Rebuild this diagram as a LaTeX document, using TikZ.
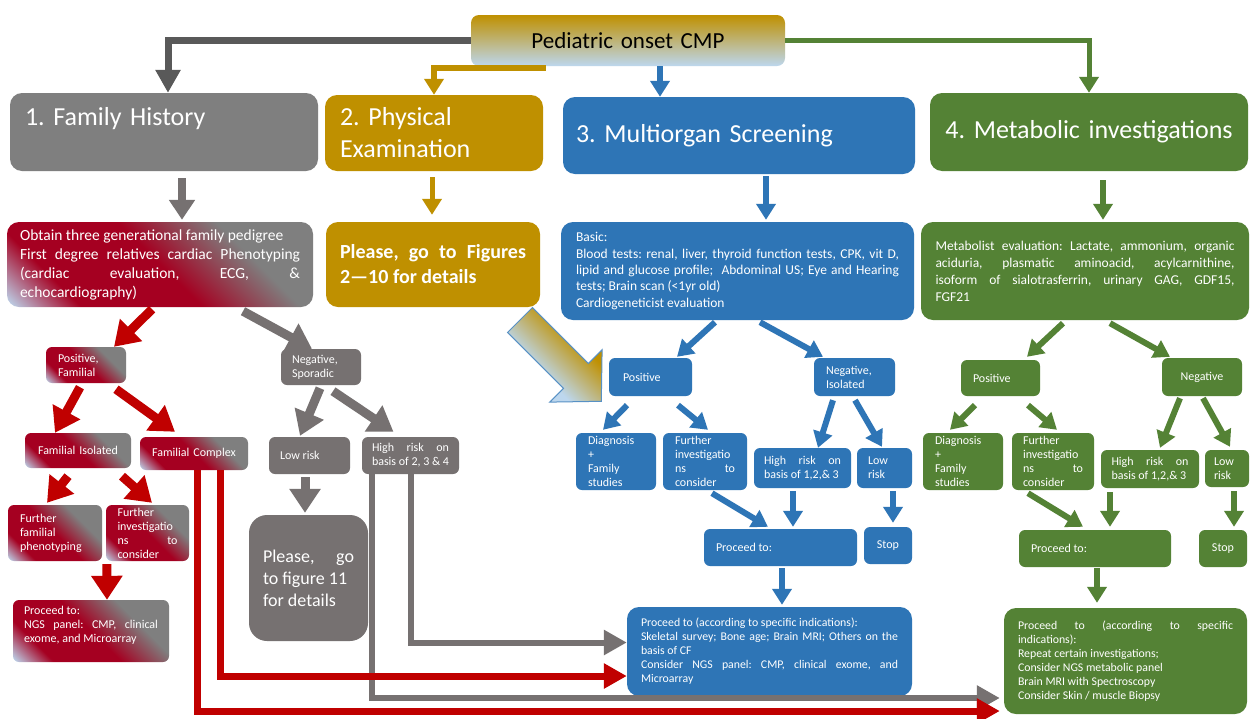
\documentclass[tikz,border=0pt]{standalone}
\usepackage{fontspec}
\setmainfont{Carlito}
\usetikzlibrary{arrows.meta,calc}

\definecolor{cgold}{HTML}{BF9000}
\definecolor{cblue}{HTML}{2E75B6}
\definecolor{cgreen}{HTML}{548235}
\definecolor{cgrey}{HTML}{7F7F7F}
\definecolor{cwarm}{HTML}{767171}
\definecolor{cdark}{HTML}{595959}
\definecolor{cred}{HTML}{C00000}
\definecolor{cwine}{HTML}{A50021}
\definecolor{clblue}{HTML}{BDD7EE}

\pgfdeclarehorizontalshading{redgrey}{100bp}{color(0bp)=(clblue); color(15bp)=(clblue);
  color(28bp)=(cwine); color(50bp)=(cwine); color(68bp)=(cgrey); color(100bp)=(cgrey)}
\pgfdeclarehorizontalshading{bluegold}{100bp}{color(0bp)=(clblue); color(38bp)=(clblue);
  color(64bp)=(cgold); color(100bp)=(cgold)}

\newcommand{\fsz}[2]{\fontsize{#1}{#2}\selectfont}
\tolerance=10000
\hbadness=10000
\frenchspacing

\tikzset{
  box/.style={rounded corners=6pt, text=white, inner ysep=0pt, align=justify, font=\fsz{12}{14}},
  bigbox/.style={box, rounded corners=12pt},
  wine/.style={shade, shading=redgrey, shading angle=45},
  fat/.style={line width=9pt, -{Triangle[length=24pt,width=30pt]}},
  mid/.style={line width=6pt, -{Triangle[length=16pt,width=19pt]}},
  link/.style={line width=7pt, -{Triangle[length=23pt,width=24pt]}},
}

\begin{document}
\begin{tikzpicture}[x=1pt, y=-1pt]
\fill[white] (0,0) rectangle (1250,718);
\useasboundingbox (0,0) rectangle (1250,718);

% headers
\node[bigbox, rounded corners=8pt, top color=cgold, bottom color=clblue, text=black, align=center,
  text width=300, inner xsep=7, minimum height=51, font=\fsz{23}{28}] (top) at (628,40.5) {Pediatric onset CMP};
\node[bigbox, fill=cgrey, text width=278, inner xsep=15, minimum height=78, align=left,
  font=\fsz{26}{31}] (fh) at (164,132) {1. Family History\\~};
\node[bigbox, fill=cgold, text width=188, inner xsep=15, minimum height=76, align=left,
  font=\fsz{26}{32}] (pe) at (434,133) {2. Physical\\Examination};
\node[bigbox, fill=cblue, text width=326, inner xsep=13, minimum height=77, align=left,
  font=\fsz{26}{31}] (mo) at (739,135.5) {3. Multiorgan Screening};
\node[bigbox, fill=cgreen, text width=300, inner xsep=9, minimum height=78, align=center,
  font=\fsz{26}{31}] (mi) at (1089,132) {4. Metabolic investigations};

\node[bigbox, wine, text width=280, inner xsep=13, minimum height=85, font=\fsz{15.5}{19}] (ped) at (160,264.5)
  {Obtain three generational family pedigree\\ First degree relatives cardiac Phenotyping\linebreak
   (cardiac evaluation, ECG, \&\linebreak echocardiography)};
\node[bigbox, fill=cgold, text width=186, inner xsep=14, minimum height=85, font=\bfseries\fsz{20}{25}] (pf) at (433,264.5)
  {Please, go to Figures\linebreak 2—10 for details};
\node[bigbox, fill=cblue, text width=323, inner xsep=15, minimum height=98, font=\fsz{13.5}{16.3}] (bs) at (737.5,271)
  {Basic:\\ Blood tests: renal, liver, thyroid function tests, CPK, vit D,\linebreak
   lipid and glucose profile;\ \ Abdominal US; Eye and Hearing\linebreak tests; Brain scan (<1yr old)\\
   Cardiogeneticist evaluation};
\node[bigbox, fill=cgreen, text width=299, inner xsep=14.5, minimum height=98, font=\fsz{13.5}{17}] (mb) at (1085,271)
  {Metabolist evaluation: Lactate, ammonium, organic\linebreak aciduria, plasmatic aminoacid, acylcarnithine,\linebreak
   isoform of sialotrasferrin, urinary GAG, GDF15,\linebreak FGF21};

% family history
\node[box, wine, text width=56, inner xsep=12, minimum height=36] (pfa) at (86,365) {Positive,\\Familial};
\node[box, fill=cwarm, text width=58, inner xsep=11, minimum height=36] (ns) at (321,367) {Negative,\\Sporadic};
\node[box, wine, text width=92, inner xsep=7, minimum height=35, align=center] (fi) at (78,450.5) {Familial Isolated};
\node[box, wine, text width=96, inner xsep=6, minimum height=33, align=center] (fc) at (194,453.5) {Familial Complex};
\node[box, fill=cwarm, text width=59, inner xsep=11, minimum height=37] (lr) at (309.5,455.5) {Low risk};
\node[box, fill=cwarm, text width=77, inner xsep=10, minimum height=37] (hr) at (410.5,455.5) {High risk on\linebreak basis of 2, 3 \& 4};
\node[box, wine, text width=70, inner xsep=12, minimum height=56] (ffp) at (55,533) {Further\\familial\\phenotyping};
\node[box, wine, text width=60, inner xsep=11.5, minimum height=56] (fir) at (147.5,533) {Further\\investigatio\\ns to\linebreak consider};
\node[box, wine, text width=134, inner xsep=11, minimum height=62, text depth=42] (ngs) at (91,631)
  {Proceed to:\\NGS panel: CMP, clinical\linebreak exome, and Microarray};
\node[box, fill=cwarm, rounded corners=18pt, text width=91, inner xsep=14, minimum height=126,
  font=\fsz{18}{22}] (pf11) at (308.5,578) {Please, go\linebreak to figure 11\\for details};

% multiorgan screening
\node[box, fill=cblue, text width=55, inner xsep=14, minimum height=38] (bpos) at (650.5,377) {Positive};
\node[box, fill=cblue, text width=57, inner xsep=12, minimum height=38] (bneg) at (854.5,377) {Negative,\\Isolated};
\node[box, fill=cblue, text width=56, inner xsep=12, minimum height=57] (bdia) at (616,461.5) {Diagnosis\\+\\Family\\studies};
\node[box, fill=cblue, text width=60, inner xsep=12, minimum height=57] (bfur) at (705,461.5) {Further\\investigatio\\ns to\linebreak consider};
\node[box, fill=cblue, text width=77, inner xsep=10, minimum height=40] (bhr) at (802.5,468) {High risk on\linebreak basis of 1,2,\& 3};
\node[box, fill=cblue, text width=33, inner xsep=11, minimum height=40] (blr) at (884.5,468) {Low\\risk};
\node[box, fill=cblue, text width=129, inner xsep=12, minimum height=37] (bpro) at (780.5,547.5) {Proceed to:};
\node[box, fill=cblue, text width=36, inner xsep=6, minimum height=37, align=center] (bstop) at (888,545.5) {Stop};
\node[bigbox, fill=cblue, text width=257, inner xsep=14, minimum height=89, font=\fsz{11.8}{14}] (bnext) at (769.5,651.5)
  {Proceed to (according to specific indications):\\ Skeletal survey; Bone age; Brain MRI; Others on the\linebreak
   basis of CF\\ Consider NGS panel: CMP, clinical exome, and\linebreak Microarray};

% metabolic investigations
\node[box, fill=cgreen, text width=55, inner xsep=12, minimum height=36] (gpos) at (1000.5,378) {Positive};
\node[box, fill=cgreen, text width=68, inner xsep=6, minimum height=38, align=center] (gneg) at (1202,377) {Negative};
\node[box, fill=cgreen, text width=56, inner xsep=12, minimum height=57] (gdia) at (963,461.5) {Diagnosis\\+\\Family\\studies};
\node[box, fill=cgreen, text width=60, inner xsep=11, minimum height=57] (gfur) at (1053,461.5) {Further\\investigatio\\ns to\linebreak consider};
\node[box, fill=cgreen, text width=77, inner xsep=10.5, minimum height=38] (ghr) at (1150,469) {High risk on\linebreak basis of 1,2,\& 3};
\node[box, fill=cgreen, text width=26, inner xsep=9, minimum height=37] (glr) at (1227,468.5) {Low\\risk};
\node[box, fill=cgreen, text width=128, inner xsep=12, minimum height=37] (gpro) at (1095,548.5) {Proceed to:};
\node[box, fill=cgreen, text width=36, inner xsep=6, minimum height=37, align=center] (gstop) at (1223,548.5) {Stop};
\node[bigbox, fill=cgreen, text width=215, inner xsep=14, minimum height=106, font=\fsz{11.8}{14}] (gnext) at (1125.5,661)
  {Proceed to (according to specific\linebreak indications):\\ Repeat certain investigations;\\
   Consider NGS metabolic panel\\ Brain MRI with Spectroscopy\\ Consider Skin / muscle Biopsy};

% arrows from the top
\draw[link, cdark] (top.west) -| ($(fh.north)+(4,0)$);
\draw[mid, cgold] ($(top.south west)+(75,2)$) -| (pe.north);
\draw[mid, cblue] ($(top.south)+(32,0)$) -- ($(mo.north)+(-79,0)$);
\draw[mid, cgreen, line width=5pt] (top.east) -| (mi.north);

\draw[cwarm, line width=8pt, -{Triangle[length=20pt,width=25pt]}] ($(fh.south)+(18,7)$) -- ($(ped.north)+(22,-2)$);
\draw[mid, cgold, line width=5pt] ($(pe.south)+(-2,6)$) -- ($(pf.north)+(-1,-7)$);
\draw[mid, cblue] ($(mo.south)+(27,2)$) -- ($(bs.north)+(28.5,-2)$);
\draw[mid, cgreen] ($(mi.south)+(14,9)$) -- ($(mb.north)+(18,-2)$);

% family branch
\draw[fat, cred] ($(ped.south)+(-8,2)$) -- ($(pfa.north)+(28,0)$);
\draw[fat, cwarm] ($(ped.south)+(83,4)$) -- ($(ns.north)+(-9,0)$);
\draw[fat, cred] ($(pfa.south)+(-6,4)$) -- ($(fi.north)+(-23,0)$);
\draw[fat, cred] ($(pfa.south)+(30,6)$) -- ($(fc.north)+(-19,-5)$);
\draw[fat, cwarm] ($(ns.south)+(-1,3)$) -- ($(lr.north)+(-9.5,-1)$);
\draw[fat, cwarm] ($(ns.south)+(12,6)$) -- ($(hr.north)+(-17,-5)$);
\draw[fat, cred] ($(fi.south)+(-10,8)$) -- ($(ffp.north)+(-8,-2)$);
\draw[fat, cred] ($(fi.south)+(44,8)$) -- ($(fir.north)+(4.5,-2)$);
\draw[fat, cred] ($(fir.south west)+(1,3)$) -- ($(ngs.north)+(16,0)$);
\draw[fat, cwarm] ($(lr.south)+(-4.5,3)$) -- ($(pf11.north)+(-3.5,-2)$);

\draw[link, cwarm, line width=6pt] ($(hr.south)+(0.5,0)$) |- ($(bnext.west)+(0,-9)$);
\draw[link, cwarm, line width=6pt] ($(hr.south)+(-38.5,0)$) |- ($(gnext.west)+(-4,37)$);
\draw[link, cred] ($(fc.south)+(26,0)$) |- ($(bnext.west)+(0,24.5)$);
\draw[link, cred] ($(fc.south)+(3,0)$) |- ($(gnext.west)+(-4,50)$);

% physical examination
\shadedraw[shading=bluegold, shading angle=45, draw=cblue!80, line width=1pt]
  (532.4,307.6) -- (588.3,363.5) -- (602.1,349.7) -- (601.3,401.3) -- (549.7,402.1) -- (563.5,388.3) -- (507.6,332.4) -- cycle;

% multiorgan branch
\draw[mid, cblue] ($(bs.south)+(-22.5,2)$) -- ($(bpos.north)+(26.5,-1)$);
\draw[mid, cblue] ($(bs.south)+(22.5,2)$) -- ($(bneg.north)+(-31.5,-1)$);
\draw[mid, cblue] ($(bpos.south)+(-23.5,9)$) -- ($(bdia.north)+(-13,-3)$);
\draw[mid, cblue] ($(bpos.south)+(27.5,9)$) -- ($(bfur.north)+(3,-3)$);
\draw[mid, cblue] ($(bneg.south)+(-21.5,4)$) -- ($(bhr.north)+(15.5,0)$);
\draw[mid, cblue] ($(bneg.south)+(0.5,4)$) -- ($(blr.north)+(-2.5,-1)$);
\draw[mid, cblue] ($(bfur.south)+(7,3)$) -- ($(bpro.north)+(-12.5,-2)$);
\draw[mid, cblue] ($(bhr.south)+(-9.5,3)$) -- ($(bpro.north)+(12.5,-2)$);
\draw[mid, cblue] ($(blr.south)+(8.5,3)$) -- ($(bstop.north)+(5,-4)$);
\draw[mid, cblue] ($(bpro.south)+(1.5,2)$) -- ($(bnext.north)+(12.5,-2)$);

% metabolic branch
\draw[mid, cgreen] ($(mb.south)+(-22,3)$) -- ($(gpos.north)+(26.5,-3)$);
\draw[mid, cgreen] ($(mb.south)+(25,3)$) -- ($(gneg.north)+(-32,-1)$);
\draw[mid, cgreen] ($(gpos.south)+(-25.5,9)$) -- ($(gdia.north)+(-13,-3)$);
\draw[mid, cgreen] ($(gpos.south)+(27.5,9)$) -- ($(gfur.north)+(4,-3)$);
\draw[mid, cgreen] ($(gneg.south)+(-22,2)$) -- ($(ghr.north)+(10,-2)$);
\draw[mid, cgreen] ($(gneg.south)+(1,2)$) -- ($(glr.north)+(3,-3)$);
\draw[mid, cgreen] ($(gfur.south)+(-25,3)$) -- ($(gpro.north)+(-12,-3)$);
\draw[mid, cgreen] ($(ghr.south)+(-40,4)$) -- ($(gpro.north)+(15,-3)$);
\draw[mid, cgreen] ($(glr.south)+(7,4)$) -- ($(gstop.north)+(11,-3)$);
\draw[mid, cgreen] ($(gpro.south)+(2,1)$) -- ($(gnext.north)+(-28.5,-5)$);
\end{tikzpicture}
\end{document}
